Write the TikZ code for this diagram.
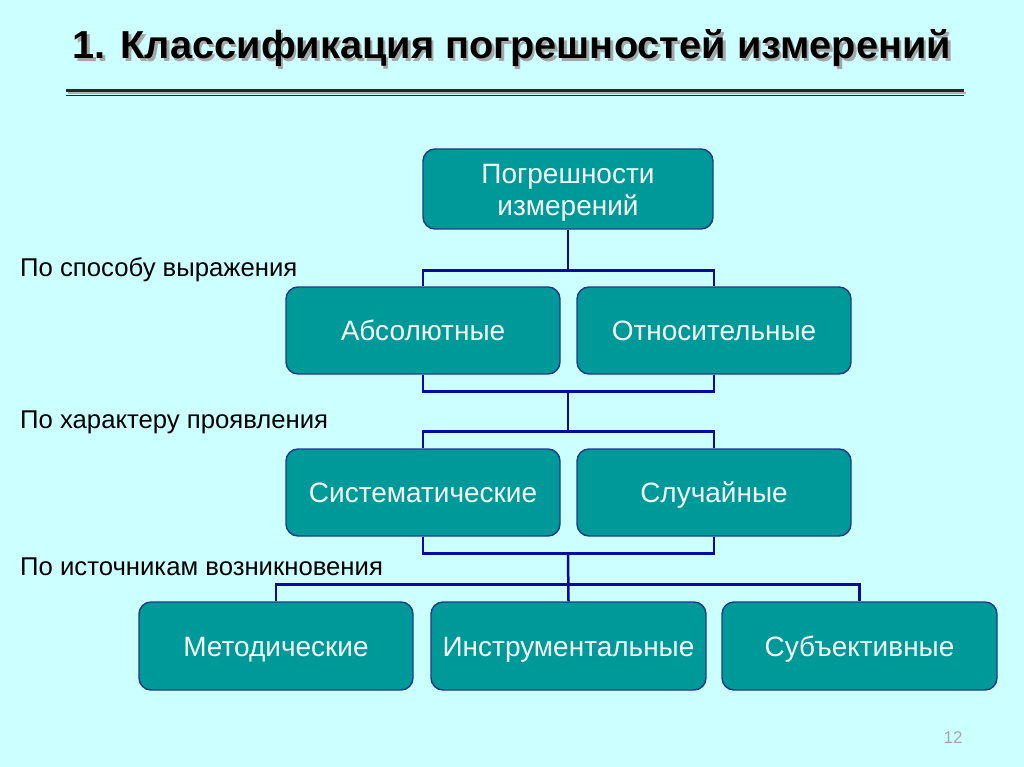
\documentclass[tikz,border=0pt]{standalone}
\usepackage{fontspec}
\setmainfont{Liberation Sans}
\newfontfamily\titlefont[FakeStretch=1.02]{Liberation Sans}
\usetikzlibrary{calc}
\definecolor{bg}{HTML}{CCFFFF}
\definecolor{boxfill}{HTML}{009999}
\definecolor{boxline}{HTML}{1F3A8A}
\definecolor{conncol}{HTML}{0A0AA0}
\definecolor{boxtext}{HTML}{F2FAFA}
\newcommand{\shadowtext}[1]{\rlap{\hspace{2.5pt}\raisebox{-2.5pt}{\textcolor{gray!70}{#1}}}#1}
\tikzset{
  box/.style={draw=boxline, line width=1.4pt, fill=boxfill, rounded corners=12pt,
    minimum width=274pt, minimum height=87pt, text=boxtext, inner sep=0pt,
    font=\fontsize{28}{32}\selectfont, align=center, text height=20pt, text depth=0pt},
  conn/.style={draw=conncol, line width=2.5pt},
  crit/.style={anchor=base west, font=\fontsize{25.7}{28}\selectfont, text=black, inner sep=0pt}
}
\begin{document}
\begin{tikzpicture}[x=1pt,y=-1pt]
\useasboundingbox (0,0) rectangle (1024,767);
\fill[bg] (0,0) rectangle (1024,767);
% title
\node (title)[anchor=base, inner sep=0pt, text=black, font=\titlefont\bfseries\fontsize{39}{44}\selectfont] at (512,59) {\shadowtext{1. Классификация погрешностей измерений}};
\draw[gray!60, line width=2pt] (68,93) -- (966,93);
\draw[black!85, line width=2.5pt] (66,90.5) -- (964,90.5);
\draw[black!85, line width=1pt] (66,95.5) -- (964,95.5);
% boxes
\node[box, minimum width=290pt, minimum height=80pt, text height=53pt, text depth=-1pt] (top) at (568,189) {Погрешности\\измерений};
\node[box] (abs) at (423,330.5) {Абсолютные};
\node[box] (rel) at (714,330.5) {Относительные};
\node[box] (sys) at (423,492.5) {Систематические};
\node[box] (rnd) at (714,492.5) {Случайные};
\node[box, minimum height=88pt] (met) at (276,646) {Методические};
\node[box, minimum width=275pt, minimum height=88pt] (ins) at (568.5,646) {Инструментальные};
\node[box, minimum width=275pt, minimum height=88pt] (sub) at (859.5,646) {Субъективные};
% criteria labels
\node[crit] (c1) at (20,276.5) {По способу выражения};
\node[crit] (c2) at (20,428.5) {По характеру проявления};
\node[crit] (c3) at (20,575.5) {По источникам возникновения};
% connectors
\path (top.south) ++(0,41) coordinate (j1);
\draw[conn] (top.south) -- (j1);
\draw[conn] (abs.north) |- (j1) -| (rel.north);
\path (top.south |- abs.south) ++(0,17) coordinate (j2);
\path (top.south |- sys.north) ++(0,-17) coordinate (j3);
\draw[conn] (abs.south) |- (j2) -| (rel.south);
\draw[conn] (j2) -- (j3);
\draw[conn] (sys.north) |- (j3) -| (rnd.north);
\path (top.south |- sys.south) ++(0,17) coordinate (j4);
\path (ins.north) ++(0,-17) coordinate (j5);
\draw[conn] (sys.south) |- (j4) -| (rnd.south);
\draw[conn] (j4) -- (ins.north);
\draw[conn] (met.north) |- (j5) -| (sub.north);
% page number
\node[text=gray!70, font=\fontsize{17}{19}\selectfont] (pg) at (953,738) {12};
\end{tikzpicture}
\end{document}
